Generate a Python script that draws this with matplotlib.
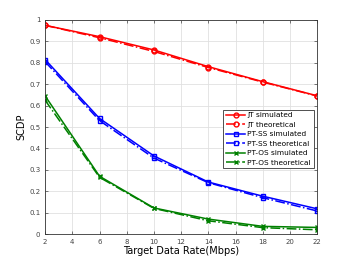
import matplotlib
matplotlib.use("Agg")
import matplotlib.pyplot as plt

x = [2, 6, 10, 14, 18, 22]
jt_sim = [0.975, 0.922, 0.860, 0.782, 0.712, 0.646]
jt_theo = [0.975, 0.917, 0.853, 0.778, 0.710, 0.645]
ss_sim = [0.815, 0.540, 0.365, 0.243, 0.177, 0.118]
ss_theo = [0.805, 0.530, 0.355, 0.240, 0.170, 0.108]
os_sim = [0.645, 0.270, 0.122, 0.070, 0.036, 0.031]
os_theo = [0.625, 0.265, 0.120, 0.062, 0.030, 0.020]
labels = ["JT simulated", "JT theoretical", "PT-SS simulated", "PT-SS theoretical",
          "PT-OS simulated", "PT-OS theoretical"]

fig = plt.figure(figsize=(3.5, 2.63), dpi=100)
ax = fig.add_axes([0.129, 0.110, 0.777, 0.814])

ms = 3.5
ax.plot(x, jt_sim, '-', color='red', marker='o', ms=ms, mfc='none', lw=1.1, label=labels[0])
ax.plot(x, jt_theo, '-.', color='red', marker='o', ms=ms, mfc='none', lw=1.1, label=labels[1])
ax.plot(x, ss_sim, '-', color='blue', marker='s', ms=ms, mfc='none', lw=1.1, label=labels[2])
ax.plot(x, ss_theo, '-.', color='blue', marker='s', ms=ms, mfc='none', lw=1.1, label=labels[3])
ax.plot(x, os_sim, '-', color='green', marker='x', ms=ms, lw=1.1, label=labels[4])
ax.plot(x, os_theo, '-.', color='green', marker='x', ms=ms, lw=1.1, label=labels[5])

ax.set_xlim(2, 22)
ax.set_ylim(0, 1)
ax.set_xticks(range(2, 23, 2))
ax.set_yticks([i / 10 for i in range(11)])
ax.set_yticklabels(["0", "0.1", "0.2", "0.3", "0.4", "0.5", "0.6", "0.7", "0.8", "0.9", "1"])
ax.grid(True, color='#e0e0e0', lw=0.6)
ax.tick_params(labelsize=5, colors='#444444', length=2, width=0.5, direction='in',
               top=True, right=True)
for s in ax.spines.values():
    s.set_color('#333333')
    s.set_linewidth(0.6)
ax.set_xlabel("Target Data Rate(Mbps)", fontsize=7, labelpad=1)
ax.set_ylabel("SCDP", fontsize=7, labelpad=2)

leg = ax.legend(loc='lower right', bbox_to_anchor=(0.987, 0.308), fontsize=5.3,
                fancybox=False, edgecolor='#333333', framealpha=1, handlelength=2.6,
                borderpad=0.35, labelspacing=0.45, handletextpad=0.3, borderaxespad=0)
leg.get_frame().set_linewidth(0.6)

fig.savefig("out.png", dpi=100)
